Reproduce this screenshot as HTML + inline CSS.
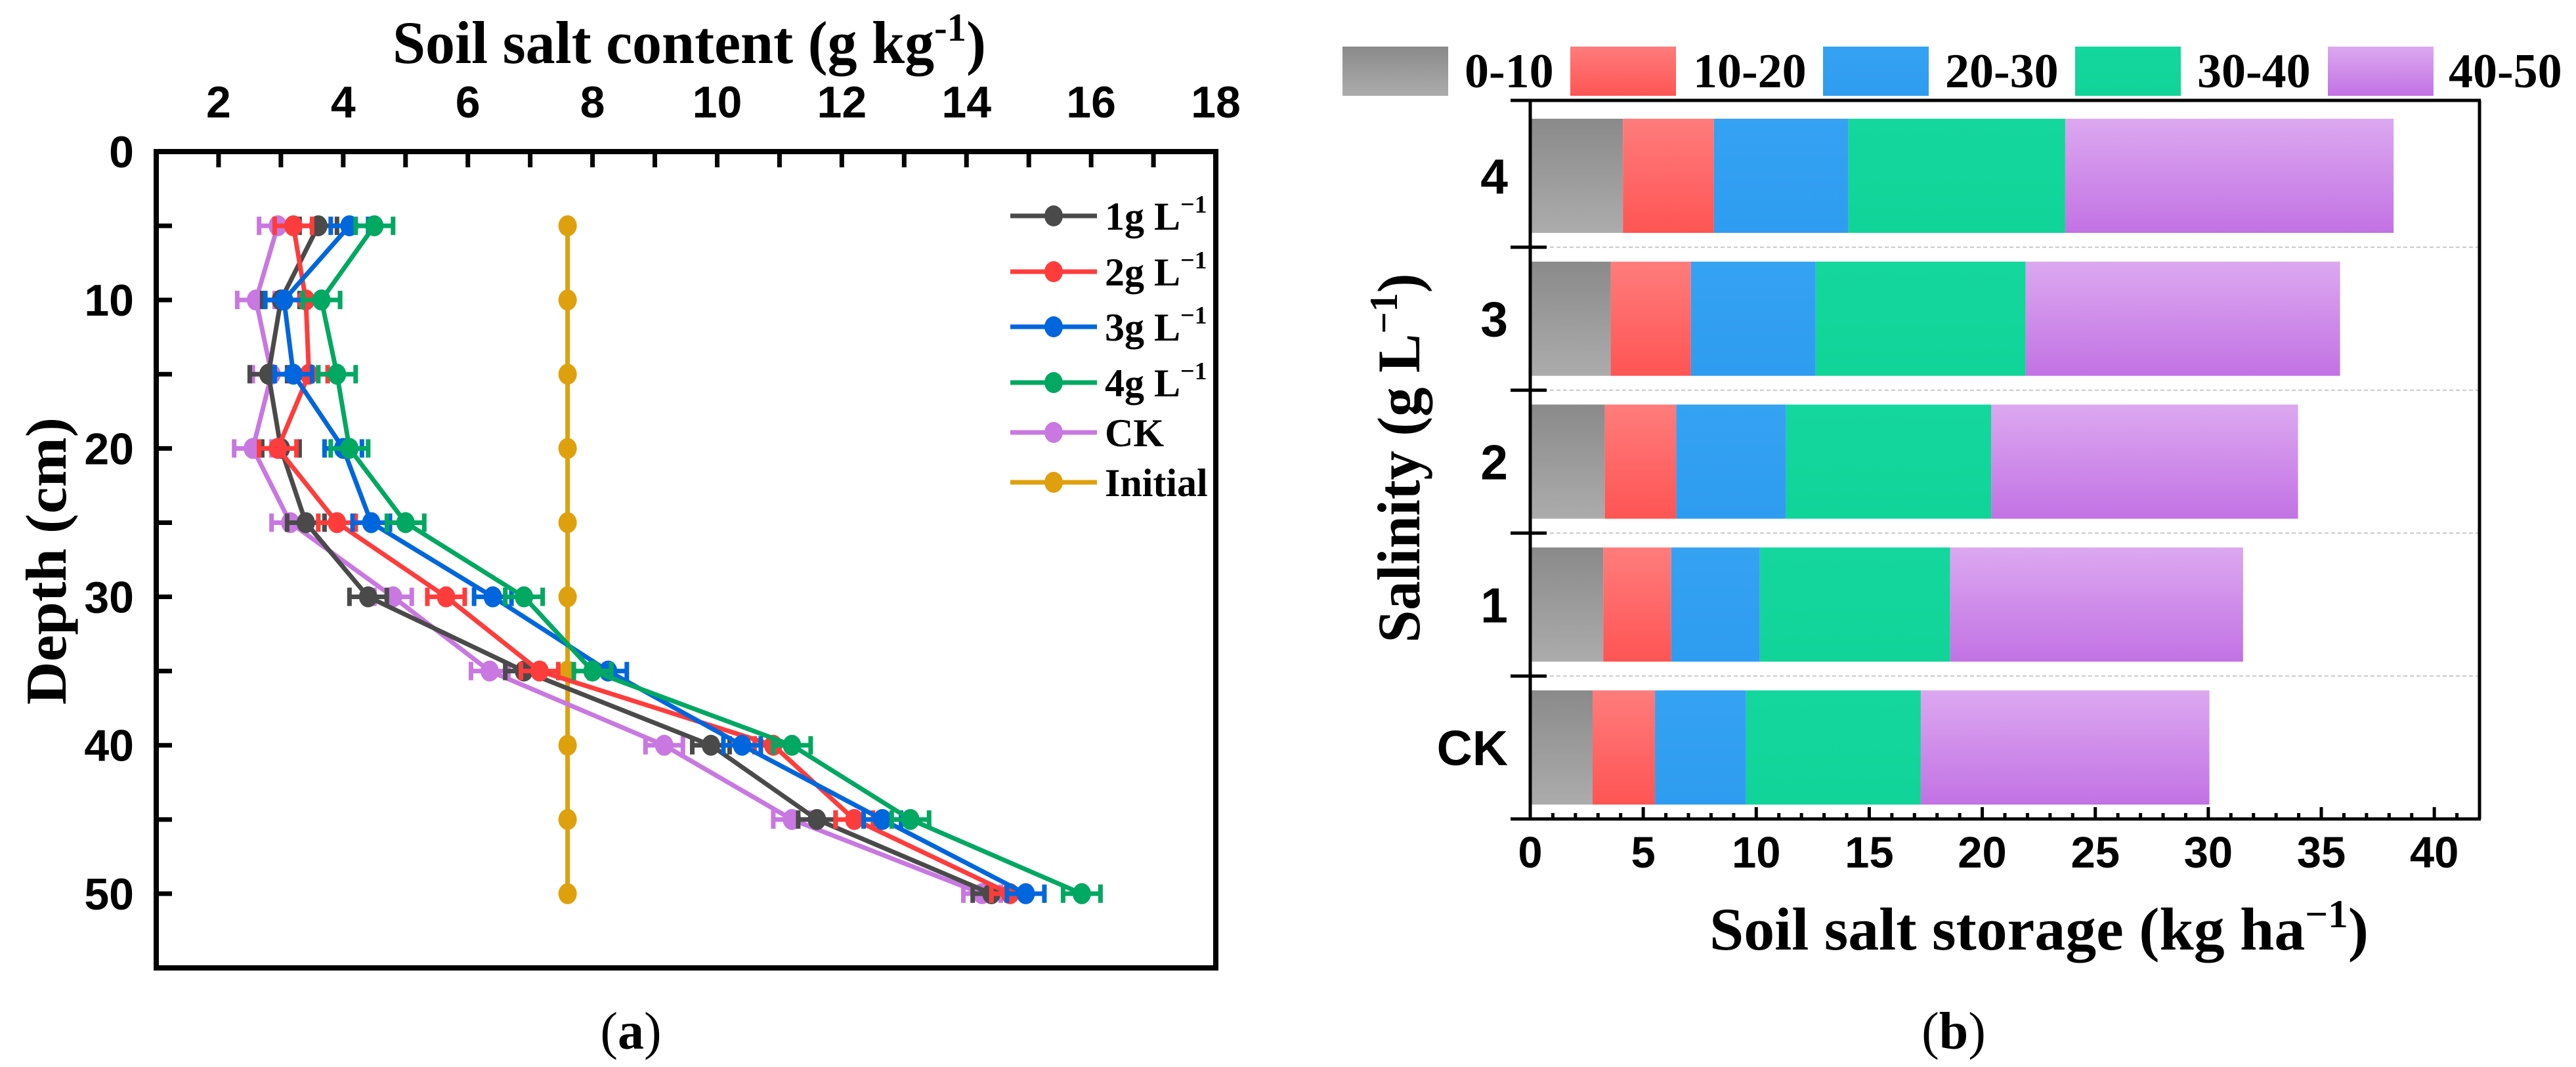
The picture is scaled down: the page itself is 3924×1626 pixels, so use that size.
<!DOCTYPE html>
<html><head><meta charset="utf-8"><style>
html,body{margin:0;padding:0;background:#fff;}
svg{display:block;}
.tk{font-family:"Liberation Sans",Arial,sans-serif;font-weight:bold;}
.tm{font-family:"Liberation Serif","Times New Roman",serif;font-weight:bold;}
</style></head><body>
<svg id="fig" width="3924" height="1626" viewBox="0 0 3924 1626" xmlns="http://www.w3.org/2000/svg">
<defs>
<linearGradient id="g0" x1="0" y1="0" x2="0" y2="1"><stop offset="0" stop-color="#8a8a8a"/><stop offset="1" stop-color="#acacac"/></linearGradient>
<linearGradient id="g1" x1="0" y1="0" x2="0" y2="1"><stop offset="0" stop-color="#ff7c7c"/><stop offset="1" stop-color="#ff5454"/></linearGradient>
<linearGradient id="g2" x1="0" y1="0" x2="0" y2="1"><stop offset="0" stop-color="#35a2f2"/><stop offset="1" stop-color="#2e9cf0"/></linearGradient>
<linearGradient id="g3" x1="0" y1="0" x2="0" y2="1"><stop offset="0" stop-color="#14d79e"/><stop offset="1" stop-color="#10d498"/></linearGradient>
<linearGradient id="g4" x1="0" y1="0" x2="0" y2="1"><stop offset="0" stop-color="#dca8f0"/><stop offset="1" stop-color="#c272e4"/></linearGradient>
</defs>
<g id="panelA"></g>
<g id="panelB"></g>
</svg>
<script>
// ---------- Panel (a) data ----------
const depths = [5,10,15,20,25,30,35,40,45,50];
const s1g = [3.6,3.0,2.8,3.0,3.4,4.4,6.9,9.9,11.6,14.4];
const s2g = [3.2,3.4,3.45,2.95,3.9,5.65,7.15,10.9,12.2,14.7];
const s3g = [4.1,3.05,3.2,4.0,4.45,6.4,8.25,10.4,12.65,14.95];
const s4g = [4.5,3.65,3.9,4.1,5.0,6.9,8.0,11.2,13.1,15.85];
const sCK = [2.95,2.6,2.85,2.55,3.15,4.8,6.35,9.15,11.2,14.25];
const sInit = [7.6,7.6,7.6,7.6,7.6,7.6,7.6,7.6,7.6,7.6];
const errA = [0.3,0.3,0.3,0.3,0.3,0.3,0.3,0.3,0.3,0.3];
const xTicksA = [2,4,6,8,10,12,14,16,18];
const yTicksA = [0,10,20,30,40,50];
const seriesNamesA = ["1g L","2g L","3g L","4g L","CK","Initial"];

// ---------- Panel (b) data ----------
const categoriesB = ["4","3","2","1","CK"];
const layersB = ["0-10","10-20","20-30","30-40","40-50"];
const layer0 = [4.10,3.56,3.30,3.23,2.76];
const layer1 = [4.03,3.55,3.16,3.01,2.76];
const layer2 = [5.95,5.52,4.86,3.92,4.03];
const layer3 = [9.59,9.29,9.08,8.42,7.73];
const layer4 = [14.53,13.91,13.57,12.96,12.77];
const xTicksB = [0,5,10,15,20,25,30,35,40];

const NS = "http://www.w3.org/2000/svg";
function mk(parent, tag, attrs, text){
  const e = document.createElementNS(NS, tag);
  for (const k in attrs) e.setAttribute(k, attrs[k]);
  if (text !== undefined) e.textContent = text;
  parent.appendChild(e);
  return e;
}

// ===== Panel A =====
const A = document.getElementById('panelA');
const aL=238, aR=1852, aT=231, aB=1475;
const ax = v => aL + (v-1)/(18-1)*(aR-aL);
const ay = v => aT + v/55*(aB-aT);

for (let v=2; v<=17; v++){
  const t = mk(A,'line',{x1:ax(v),y1:aT,x2:ax(v),y2:aT+24,stroke:'#000','stroke-width':7});
  
  
}
for (let v=5; v<=50; v+=5){
  const t = mk(A,'line',{x1:aL,y1:ay(v),x2:aL+24,y2:ay(v),stroke:'#000','stroke-width':7});
  
  
}
xTicksA.forEach(v=>{
  const t = mk(A,'text',{x:ax(v),y:179,'text-anchor':'middle','font-size':68,class:'tk'},String(v));
  
  
});
yTicksA.forEach(v=>{
  const t = mk(A,'text',{x:204,y:ay(v)+24,'text-anchor':'end','font-size':68,class:'tk'},String(v));
  
  
});
let tA = mk(A,'text',{x:1050,y:96,'text-anchor':'middle','font-size':92,class:'tm',textLength:904,lengthAdjust:'spacingAndGlyphs'});


tA.innerHTML = 'Soil salt content (g kg<tspan dy="-34" font-size="60">-1</tspan><tspan dy="34">)</tspan>';
let yA = mk(A,'text',{x:0,y:0,'text-anchor':'middle','font-size':88,class:'tm',textLength:438,lengthAdjust:'spacingAndGlyphs',transform:'translate(100,855) rotate(-90)'},'Depth (cm)');



const seriesA = [s1g,s2g,s3g,s4g,sCK,sInit];
const colorsA = ['#4a4a4a','#ff3c3c','#0066dd','#00a862','#c878e0','#dfa00e'];
const hasErr = [true,true,true,true,true,false];
const drawOrder = [5,4,0,1,2,3];
drawOrder.forEach(i=>{
  const g = mk(A,'g',{});
  
  
  const pts = seriesA[i].map((v,k)=>ax(v)+','+ay(depths[k])).join(' ');
  mk(g,'polyline',{points:pts,fill:'none',stroke:colorsA[i],'stroke-width':7,'stroke-linejoin':'round'});
  seriesA[i].forEach((v,k)=>{
    if (hasErr[i]){
      const e1=ax(v-errA[k]), e2=ax(v+errA[k]), y=ay(depths[k]);
      const eb = mk(g,'path',{d:`M${e1},${y}H${e2}M${e1},${y-14}V${y+14}M${e2},${y-14}V${y+14}`,stroke:colorsA[i],'stroke-width':7,fill:'none'});
      
      
    }
    const c = mk(g,'ellipse',{cx:ax(v),cy:ay(depths[k]),rx:14,ry:16,fill:colorsA[i]});
    
    
  });
});
mk(A,'rect',{x:aL,y:aT,width:aR-aL,height:aB-aT,fill:'none',stroke:'#000','stroke-width':8});

const legRows = [329,414,498,583,659,735];
const legLabelsA = ['1g L','2g L','3g L','4g L','CK','Initial'];
legLabelsA.forEach((lab,i)=>{
  const g = mk(A,'g',{});
  
  
  const y = legRows[i];
  mk(g,'line',{x1:1539,y1:y,x2:1671,y2:y,stroke:colorsA[i],'stroke-width':7});
  mk(g,'ellipse',{cx:1605,cy:y,rx:14,ry:16,fill:colorsA[i]});
  const t = mk(g,'text',{x:1683,y:y+21,'font-size':60,class:'tm'});
  if (i<4) t.innerHTML = lab+'<tspan dy="-26" font-size="38">&#8722;1</tspan>';
  else t.textContent = lab;
});
let capA = mk(A,'text',{x:961,y:1598,'text-anchor':'middle','font-size':80,'font-family':'Liberation Serif, serif'});


capA.innerHTML = '(<tspan font-weight="bold">a</tspan>)';

// ===== Panel B =====
const B = document.getElementById('panelB');
const bL=2331, bR=3777, bT=159, bB=1248;
const bx = v => bL + v/42*(bR-bL);
const band = (bB-bT)/categoriesB.length;
const by = i => bT + band*(i+0.5);
const barH = 174;
const layers = [layer0,layer1,layer2,layer3,layer4];

for (let i=1;i<categoriesB.length;i++){
  const y = bT+band*i;
  const l = mk(B,'line',{x1:bL,y1:y,x2:bR,y2:y,stroke:'#c8c8c8','stroke-width':2,'stroke-dasharray':'6,4'});
  
  
  const t = mk(B,'line',{x1:bL-30,y1:y,x2:bL+25,y2:y,stroke:'#000','stroke-width':5});
  
  
}
categoriesB.forEach((cat,i)=>{
  let cum = 0;
  layers.forEach((arr,j)=>{
    const r = mk(B,'rect',{x:bx(cum),y:by(i)-barH/2,width:bx(cum+arr[i])-bx(cum),height:barH,fill:`url(#g${j})`});
    
    
    cum += arr[i];
  });
  const t = mk(B,'text',{x:2297,y:by(i)+27,'text-anchor':'end','font-size':75,class:'tk'},cat);
  
  
});
mk(B,'line',{x1:bL,y1:bT-6,x2:bL,y2:bB,stroke:'#000','stroke-width':5});
mk(B,'line',{x1:bL-30,y1:bB,x2:bR+2,y2:bB,stroke:'#000','stroke-width':5});
mk(B,'line',{x1:bL-30,y1:bT-6,x2:bR+2,y2:bT-6,stroke:'#000','stroke-width':5});
mk(B,'line',{x1:bR,y1:bT-6,x2:bR,y2:bB,stroke:'#000','stroke-width':5});
for (let v=1; v<=41; v++){
  const major = v%5===0;
  const t = mk(B,'line',{x1:bx(v),y1:bB,x2:bx(v),y2:bB-(major?18:9),stroke:'#000','stroke-width':5});
  
  
}
xTicksB.forEach(v=>{
  const t = mk(B,'text',{x:bx(v),y:1322,'text-anchor':'middle','font-size':67,class:'tk'},String(v));
  
  
});
let tB = mk(B,'text',{x:3106,y:1447,'text-anchor':'middle','font-size':92,class:'tm',textLength:1004,lengthAdjust:'spacingAndGlyphs'});


tB.innerHTML = 'Soil salt storage (kg ha<tspan dy="-34" font-size="60">&#8722;1</tspan><tspan dy="34">)</tspan>';
let yB = mk(B,'text',{x:0,y:0,'text-anchor':'middle','font-size':92,class:'tm',textLength:563,lengthAdjust:'spacingAndGlyphs',transform:'translate(2162,698) rotate(-90)'});


yB.innerHTML = 'Salinity (g L<tspan dy="-34" font-size="60">&#8722;1</tspan><tspan dy="34">)</tspan>';

const swX = [2045,2392,2777,3161,3546];
const labX = [2231,2579,2963,3347,3730];
layersB.forEach((lab,j)=>{
  const g = mk(B,'g',{});
  
  
  mk(g,'rect',{x:swX[j],y:71,width:161,height:75,fill:`url(#g${j})`});
  mk(g,'text',{x:labX[j],y:133,'font-size':74,class:'tm'},lab);
});
let capB = mk(B,'text',{x:2976,y:1598,'text-anchor':'middle','font-size':80,'font-family':'Liberation Serif, serif'});


capB.innerHTML = '(<tspan font-weight="bold">b</tspan>)';
</script>
</body></html>
